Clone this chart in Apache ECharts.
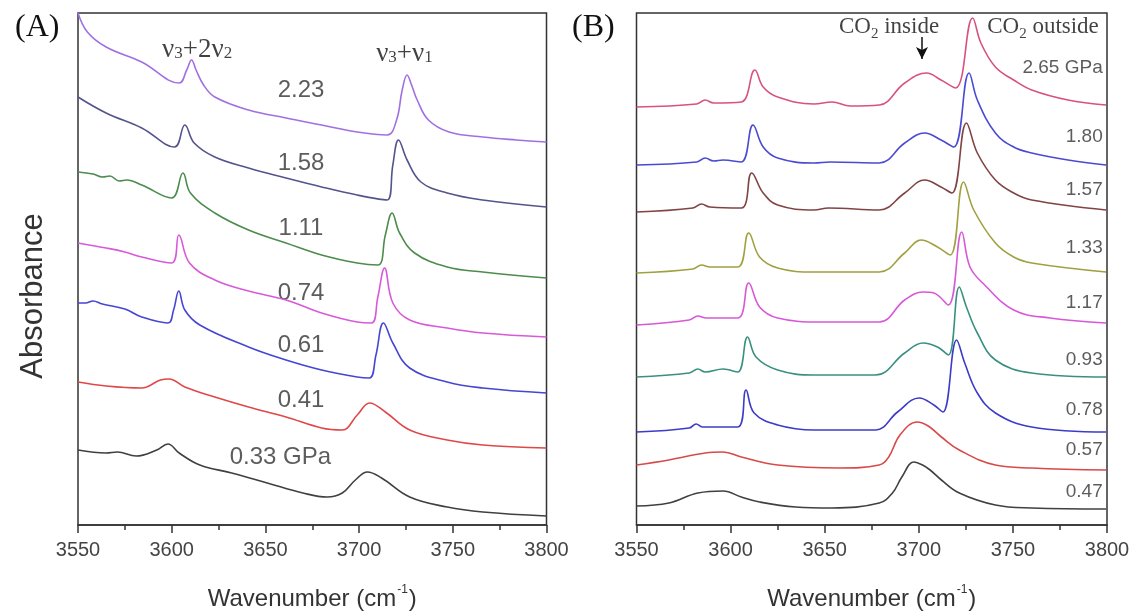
<!DOCTYPE html>
<html>
<head>
<meta charset="utf-8">
<script src="https://cdn.jsdelivr.net/npm/echarts/dist/echarts.min.js"></script>
<style>
html,body{margin:0;padding:0;background:#fff;}
#chart{width:1129px;height:611px;}
</style>
</head>
<body>
<div id="chart"></div>
<script>
// ---------- Axis range (wavenumber, cm^-1) ----------
const xMin = 3550, xMax = 3800, xStep = 50;
const yMin = 0, yMax = 512;   // offset absorbance (arbitrary units)

// ---------- Panel A spectra: [wavenumber, offset absorbance] ----------
const A_labels = ['0.33 GPa', '0.41', '0.61', '0.74', '1.11', '1.58', '2.23'];
const A_033 = [[3550,75],[3565,72],[3571,73],[3581,69],[3592,75],[3598,81],[3604,72],[3615,60],[3632,52],[3651,42],[3670,32],[3683,28],[3691,32],[3698,45],[3704.4,53],[3712,47],[3727,28],[3747,18],[3766,13],[3800,9]];
const A_041 = [[3550,143],[3565,139],[3584,137],[3594,145],[3598.6,146],[3607,138],[3623,128],[3641,118],[3661,108],[3680,97],[3691,95],[3699,110],[3705.6,122],[3714,113],[3727,95],[3747,85],[3766,80],[3800,77]];
const A_061 = [[3550,222],[3554,222],[3558,224],[3563,221],[3575,216],[3584,208],[3598,202],[3601,215],[3603.8,234],[3607,215],[3615,200],[3641,178],[3661,165],[3680,155],[3699,148],[3705.6,147],[3709,170],[3713,202],[3718,182],[3727,157],[3747,143],[3766,137],[3800,132]];
const A_074 = [[3550,282],[3565,277],[3575,273],[3584,268],[3600,262],[3603.8,290],[3609.5,262],[3623,245],[3641,234],[3661,225],[3680,212],[3699,203],[3706.7,202],[3710,228],[3713.6,257],[3718,222],[3727,205],[3747,197],[3766,192],[3800,188]];
const A_111 = [[3550,353],[3558,351],[3563,348],[3567,349],[3572,344],[3576,345],[3584,340],[3600,327],[3606,352],[3610,332],[3623,312],[3641,295],[3661,282],[3680,270],[3699,262],[3710,260],[3714,290],[3717.6,312],[3721.6,292],[3729.6,272],[3747,258],[3766,253],[3800,247]];
const A_158 = [[3550,428],[3565,412],[3584,397],[3601.5,378],[3607,400],[3612,382],[3623,368],[3641,357],[3661,347],[3680,338],[3699,330],[3715,325],[3718,360],[3721,385],[3725.6,365],[3733,343],[3747,332],[3766,325],[3800,318]];
const A_223 = [[3550,512],[3555,493],[3565,478],[3584,463],[3604,442],[3608,455],[3610.6,465],[3613,455],[3617,440],[3623,428],[3641,415],[3661,407],[3680,400],[3699,393],[3715,390],[3720,405],[3723,435],[3725.6,450],[3728,440],[3731,425],[3737,405],[3748,393],[3766,388],[3784,385],[3800,383]];
const A_series = [A_033, A_041, A_061, A_074, A_111, A_158, A_223];
const A_labelAt = [[3658,68],[3669,125],[3669,180],[3669,232],[3669,297],[3669,362],[3669,435]];

// ---------- Panel B spectra ----------
const B_labels = ['0.47', '0.57', '0.78', '0.93', '1.17', '1.33', '1.57', '1.80', '2.65 GPa'];
const B_047 = [[3550,19],[3567.2,22],[3582.6,32],[3596,34],[3605.7,28],[3615.4,23],[3634.6,18],[3653.9,17],[3679,22],[3686,32],[3691,48],[3697.3,63],[3702,60],[3706,55],[3712,45],[3721.5,32],[3740.7,20],[3760,17],[3799.5,16]];
const B_057 = [[3550,60],[3567.2,65],[3586.5,72],[3596,73],[3605.7,68],[3625,60],[3657.8,57],[3679,60],[3684,68],[3690,90],[3699.2,103],[3705,99],[3712,88],[3721.5,75],[3740.7,60],[3760,57],[3799.5,55]];
const B_078 = [[3550,93],[3578,97],[3581.7,101],[3585,98],[3603.8,98],[3608.2,135],[3612.5,112],[3625,100],[3644.3,95],[3677,95],[3688.7,113],[3700.2,127],[3708,120],[3712.8,113],[3720.1,185],[3724.4,162],[3731.1,132],[3740.7,112],[3760,98],[3799.5,93]];
const B_093 = [[3550,148],[3578,152],[3582.6,156],[3586.5,153],[3596,156],[3603.8,153],[3609,188],[3613.5,168],[3625,155],[3644.3,150],[3677,150],[3692.5,172],[3702.2,182],[3709.9,178],[3715.7,170],[3721.5,238],[3725.3,218],[3731.1,192],[3740.7,165],[3760,152],[3799.5,148]];
const B_117 = [[3550,200],[3578,205],[3582.6,209],[3587,207],[3603.8,207],[3609.6,242],[3615.4,218],[3625,207],[3648,203],[3679,203],[3692.5,225],[3702.2,233],[3708,232],[3715.7,220],[3722.8,293],[3727.2,258],[3735,240],[3750.4,215],[3769.6,207],[3799.5,202]];
const B_133 = [[3550,252],[3580,256],[3584.5,260],[3589,258],[3603.8,258],[3609.6,292],[3615.4,268],[3625,257],[3644.3,253],[3679,253],[3692.5,272],[3701.2,285],[3709.9,278],[3716.7,270],[3723.8,343],[3729.2,315],[3740.7,282],[3750.4,268],[3760,262],[3799.5,253]];
const B_157 = [[3550,313],[3580,317],[3584.5,321],[3589,318],[3605.7,317],[3611.2,352],[3617.3,332],[3625,320],[3644.3,315],[3652,317],[3679,315],[3692.5,332],[3703.1,345],[3711.8,338],[3717.6,332],[3725.3,402],[3731.1,372],[3740.7,345],[3750.4,332],[3760,325],[3799.5,315]];
const B_180 = [[3550,360],[3582,363],[3586.5,367],[3591,364],[3596,365],[3605.7,363],[3611.9,400],[3617.3,378],[3625,367],[3644.3,362],[3652.9,363],[3679,362],[3692.5,382],[3703.1,392],[3711.8,385],[3718.6,378],[3726.7,452],[3731.1,425],[3740.7,392],[3750.4,378],[3760,372],[3779.3,365],[3799.5,360]];
const B_265 = [[3550,418],[3582,421],[3586.5,425],[3591,422],[3605.7,423],[3612.9,455],[3617.3,438],[3625,428],[3644.3,421],[3653.9,423],[3663.6,419],[3679,420],[3692.5,442],[3704.1,452],[3711.8,445],[3719.6,437],[3728.6,507],[3733,482],[3740.7,458],[3750.4,445],[3760,435],[3779.3,425],[3799.5,420]];
const B_series = [B_047, B_057, B_078, B_093, B_117, B_133, B_157, B_180, B_265];
const B_labelAt = [[3798,33],[3798,75],[3798,115],[3798,165],[3798,222],[3798,277],[3798,335],[3798,388],[3798,457]];

// ---------- Colours ----------
const A_colors = ['#404040', '#e04848', '#4646d2', '#d85ad8', '#4c8c4c', '#54548c', '#a070e2'];
const B_colors = ['#404040', '#d84a4a', '#3c3cc8', '#3a9080', '#d858d8', '#a0a040', '#804444', '#4a4ad2', '#d8527f'];

const SANS = '"Liberation Sans", Arial, sans-serif';
const SERIF = '"Liberation Serif", "Times New Roman", serif';

const chart = echarts.init(document.getElementById('chart'), null, {renderer: 'canvas'});

function xAxisFor(gi) {
  return {
    type: 'value', gridIndex: gi, min: xMin, max: xMax, interval: xStep,
    axisLine: {show: true, lineStyle: {color: '#333', width: 1.5}},
    axisTick: {show: true, inside: false, length: 8, lineStyle: {color: '#333', width: 1.5}},
    minorTick: {show: true, splitNumber: 2, length: 5, lineStyle: {color: '#333', width: 1.5}},
    splitLine: {show: false},
    axisLabel: {color: '#444', fontSize: 20, fontFamily: SANS, margin: 15, formatter: v => String(v)},
    name: '{t|Wavenumber (cm}{s|-1}{t|)}',
    nameLocation: 'middle', nameGap: 59,
    nameTextStyle: {
      rich: {
        t: {fontSize: 24, fontFamily: SANS, color: '#333', lineHeight: 27, verticalAlign: 'bottom'},
        s: {fontSize: 12, fontFamily: SANS, color: '#333', lineHeight: 27, verticalAlign: 'top', padding: [0, 1, 14, 1]}
      }
    }
  };
}
function yAxisFor(gi) {
  return {
    type: 'value', gridIndex: gi, min: yMin, max: yMax,
    axisLine: {show: false}, axisTick: {show: false}, axisLabel: {show: false}, splitLine: {show: false}
  };
}

const series = [];
A_series.forEach((d, i) => {
  series.push({type: 'line', xAxisIndex: 0, yAxisIndex: 0, data: d, showSymbol: false, smooth: 0.4,
    lineStyle: {color: A_colors[i], width: 1.6}, itemStyle: {color: A_colors[i]}, silent: true});
});
B_series.forEach((d, i) => {
  series.push({type: 'line', xAxisIndex: 1, yAxisIndex: 1, data: d, showSymbol: false, smooth: 0.4,
    lineStyle: {color: B_colors[i], width: 1.6}, itemStyle: {color: B_colors[i]}, silent: true});
});

// Pressure labels
series.push({
  type: 'scatter', xAxisIndex: 0, yAxisIndex: 0, symbolSize: 1, silent: true,
  itemStyle: {color: 'rgba(0,0,0,0)'},
  data: A_labelAt.map((p, i) => [p[0], p[1], A_labels[i]]),
  label: {show: true, position: 'inside', formatter: p => p.data[2], fontSize: 24, fontFamily: SANS, color: '#333'}
});
series.push({
  type: 'scatter', xAxisIndex: 1, yAxisIndex: 1, symbolSize: 1, silent: true,
  itemStyle: {color: 'rgba(0,0,0,0)'},
  data: B_labelAt.map((p, i) => [p[0], p[1], B_labels[i]]),
  label: {show: true, position: 'left', distance: 0, formatter: p => p.data[2], fontSize: 19, fontFamily: SANS, color: '#333'}
});

// Band annotations
const richSerif = {
  a: {fontSize: 27, fontFamily: SERIF, color: '#111', lineHeight: 28, verticalAlign: 'bottom'},
  s: {fontSize: 17, fontFamily: SERIF, color: '#111', lineHeight: 20, verticalAlign: 'bottom', padding: [0, 0, 1, 0]},
  c: {fontSize: 23, fontFamily: SERIF, color: '#111', lineHeight: 26, verticalAlign: 'bottom'},
  d: {fontSize: 15, fontFamily: SERIF, color: '#111', lineHeight: 15, verticalAlign: 'bottom', padding: [0, 0, -4, 0]}
};
series.push({
  type: 'scatter', xAxisIndex: 0, yAxisIndex: 0, symbolSize: 1, silent: true,
  itemStyle: {color: 'rgba(0,0,0,0)'},
  data: [[3613.6, 476, '{a|ν}{s|3}{a|+2ν}{s|2}'], [3724.2, 472, '{a|ν}{s|3}{a|+ν}{s|1}']],
  label: {show: true, position: 'inside', formatter: p => p.data[2], rich: richSerif}
});
series.push({
  type: 'scatter', xAxisIndex: 1, yAxisIndex: 1, symbolSize: 1, silent: true,
  itemStyle: {color: 'rgba(0,0,0,0)'},
  data: [[3684.2, 500, '{c|CO}{d|2}{c| inside}'], [3766, 500, '{c|CO}{d|2}{c| outside}']],
  label: {show: true, position: 'inside', formatter: p => p.data[2], rich: richSerif},
  markLine: {
    silent: true, symbol: ['none', 'arrow'], symbolSize: [9, 12], animation: false,
    lineStyle: {color: '#111', width: 1.5, type: 'solid'}, label: {show: false},
    data: [[{coord: [3701.7, 488]}, {coord: [3701.7, 466]}]]
  }
});

chart.setOption({
  animation: false,
  backgroundColor: '#fff',
  title: [
    {text: '(A)', left: 10, top: 7, textStyle: {fontFamily: SERIF, fontSize: 32, fontWeight: 'normal', color: '#111'}},
    {text: '(B)', left: 567, top: 7, textStyle: {fontFamily: SERIF, fontSize: 32, fontWeight: 'normal', color: '#111'}}
  ],
  grid: [
    {left: 78, top: 13, right: 582.5, bottom: 86, show: true, borderColor: '#333', borderWidth: 1.5, backgroundColor: 'transparent', outerBoundsMode: 'none', containLabel: false},
    {left: 636.5, top: 13, right: 22, bottom: 86, show: true, borderColor: '#333', borderWidth: 1.5, backgroundColor: 'transparent', outerBoundsMode: 'none', containLabel: false}
  ],
  graphic: [{
    type: 'text', x: 33, y: 296, rotation: Math.PI / 2,
    style: {text: 'Absorbance', fontSize: 31, fontFamily: SANS, fill: '#333', align: 'center', verticalAlign: 'middle'}
  }],
  xAxis: [xAxisFor(0), xAxisFor(1)],
  yAxis: [yAxisFor(0), yAxisFor(1)],
  series: series
});
</script>
</body>
</html>
